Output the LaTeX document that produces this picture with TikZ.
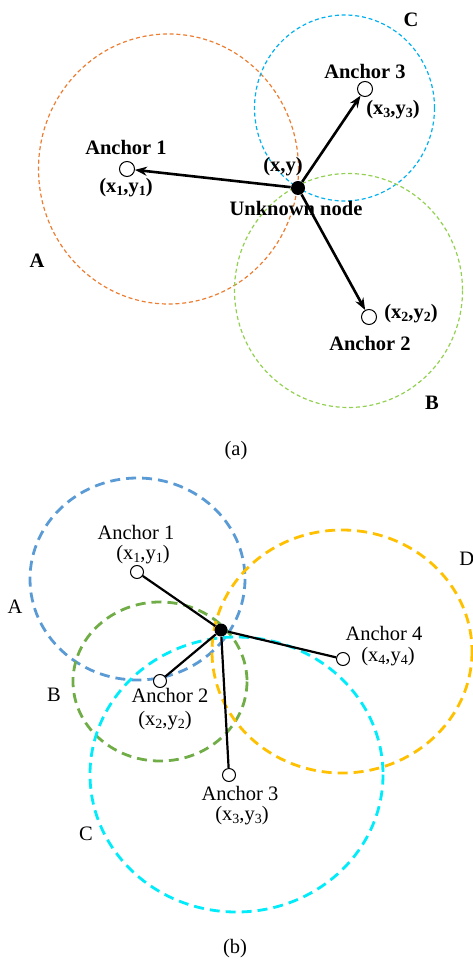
\documentclass[tikz,border=0pt]{standalone}
\usepackage{fontspec}
\setmainfont{Liberation Serif}
\usepackage{tikz}
\usetikzlibrary{arrows.meta, positioning}
\definecolor{ringorange}{RGB}{237,125,49}
\definecolor{ringblue}{RGB}{0,176,240}
\definecolor{ringgreen}{RGB}{146,208,80}
\definecolor{bluering}{RGB}{91,155,213}
\definecolor{greenring}{RGB}{112,173,71}
\definecolor{cyanring}{RGB}{0,236,250}
\definecolor{yellowring}{RGB}{255,192,0}
\newcommand{\lowidx}[1]{\raisebox{-0.3ex}{\scriptsize #1}}

\begin{document}
\begin{tikzpicture}[x=0.5pt, y=-0.5pt,
  txt/.style={font=\fontsize{10.25}{12}\selectfont, inner sep=0pt},
  txtb/.style={font=\fontsize{10.25}{12}\selectfont\bfseries, inner sep=0pt},
  anchorpt/.style={circle, draw, fill=white, inner sep=0pt, minimum size=7.5pt, line width=0.5pt},
  target/.style={circle, fill=black, inner sep=0pt, minimum size=7pt},
  ringa/.style={dash pattern=on 2pt off 1.4pt, line width=0.6pt},
  ringb/.style={dash pattern=on 5pt off 3pt, line width=1.4pt},
  ray/.style={line width=1.3pt, -{Stealth[length=6pt,width=4.5pt]}},
  spoke/.style={line width=1.1pt}]
  \useasboundingbox (0,0) rectangle (472,967);
  % (a)
  \draw[ringa, ringorange] (168.5,169) ellipse[x radius=130, y radius=135];
  \draw[ringa, ringblue] (344.5,108) ellipse[x radius=90, y radius=93];
  \draw[ringa, ringgreen] (348.5,290.5) ellipse[x radius=114, y radius=117];
  \node[target] (u) at (298,188) {};
  \node[anchorpt] (a1) at (127,169) {};
  \node[anchorpt] (a2) at (369,317) {};
  \node[anchorpt] (a3) at (365,89) {};
  \draw[ray] (u) -- (a1);
  \draw[ray] (u) -- (a2);
  \draw[ray] (u) -- (a3);
  \node[txtb] (a1name) at (126,147) {Anchor 1};
  \node[txtb] (a1pos) at (126,188) {(x\lowidx{1},y\lowidx{1})};
  \node[txtb] (a3name) at (365,71) {Anchor 3};
  \node[txtb] (a3pos) at (393,110) {(x\lowidx{3},y\lowidx{3})};
  \node[txtb] (upos) at (283,167) {(x,y)};
  \node[txtb] (uname) at (296,208) {Unknown node};
  \node[txtb] (a2pos) at (411,314) {(x\lowidx{2},y\lowidx{2})};
  \node[txtb] (a2name) at (370,343) {Anchor 2};
  \node[txtb] (ringA) at (37,261) {A};
  \node[txtb] (ringC) at (411,20) {C};
  \node[txtb] (ringB) at (432,403) {B};
  \node[txt] (capa) at (236,451) {(a)};
  % (b)
  \draw[ringb, bluering] (137.5,579) ellipse[x radius=107.5, y radius=101];
  \draw[ringb, greenring] (160,681.5) ellipse[x radius=87, y radius=79.5];
  \draw[ringb, cyanring] (236.5,774.5) ellipse[x radius=146.5, y radius=137.5];
  \draw[ringb, yellowring] (342,651.5) ellipse[x radius=130, y radius=121.5];
  \node[target, minimum size=6.5pt] (v) at (221,630) {};
  \node[anchorpt, minimum size=6.5pt] (b1) at (137,572) {};
  \node[anchorpt, minimum size=6.5pt] (b2) at (160,681) {};
  \node[anchorpt, minimum size=6.5pt] (b3) at (229,775) {};
  \node[anchorpt, minimum size=6.5pt] (b4) at (343,659) {};
  \draw[spoke] (v) -- (b1);
  \draw[spoke] (v) -- (b2);
  \draw[spoke] (v) -- (b3);
  \draw[spoke] (v) -- (b4);
  \node[txt] (b1name) at (136,532) {Anchor 1};
  \node[txt] (b1pos) at (143,555) {(x\lowidx{1},y\lowidx{1})};
  \node[txt] (b2name) at (170,695) {Anchor 2};
  \node[txt] (b2pos) at (165,721) {(x\lowidx{2},y\lowidx{2})};
  \node[txt] (b3name) at (240,793) {Anchor 3};
  \node[txt] (b3pos) at (242,816) {(x\lowidx{3},y\lowidx{3})};
  \node[txt] (b4name) at (384,633) {Anchor 4};
  \node[txt] (b4pos) at (388,657) {(x\lowidx{4},y\lowidx{4})};
  \node[txt] (ringbA) at (15,607) {A};
  \node[txt] (ringbB) at (54,695) {B};
  \node[txt] (ringbC) at (86,834) {C};
  \node[txt, anchor=west] (ringbD) at (459,559) {D};
  \node[txt] (capb) at (235,949) {(b)};
\end{tikzpicture}
\end{document}
